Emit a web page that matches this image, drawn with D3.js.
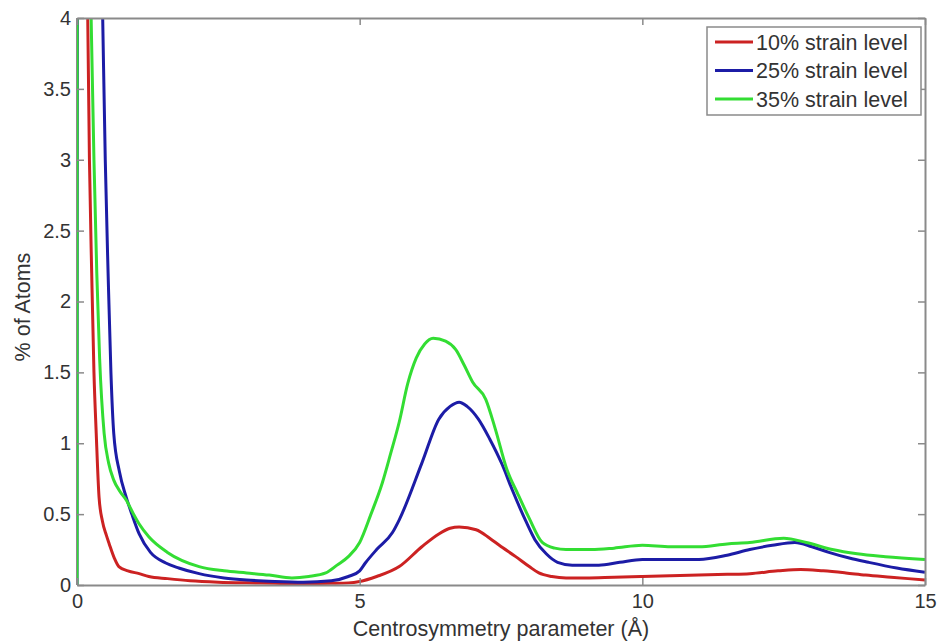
<!DOCTYPE html>
<html><head><meta charset="utf-8">
<script src="https://cdn.jsdelivr.net/npm/d3@7/dist/d3.min.js"></script>
<style>body{margin:0;background:#fff;} text{font-family:"Liberation Sans",Arial,sans-serif;}</style>
</head><body><svg id="c" width="943" height="643"></svg>
<script>
const seriesNames = ["10% strain level","25% strain level","35% strain level"];
const seriesColors = ["#cc2222","#1c1ca6","#33dd33"];
const redX = [0.17,0.19,0.22,0.26,0.30,0.34,0.39,0.45,0.52,0.57,0.66,0.74,0.9,1.1,1.27,1.6,2.0,2.5,3.0,3.5,4.0,4.5,4.8,5.0,5.3,5.7,6.1,6.4,6.6,6.76,7.06,7.3,7.47,7.76,8.0,8.17,8.4,8.65,9.0,9.5,10,10.5,11,11.5,11.9,12.4,12.8,13.2,13.6,13.95,14.4,15];
const redY = [5.0,4.0,3.0,2.2,1.5,1.07,0.62,0.45,0.35,0.29,0.19,0.13,0.10,0.08,0.06,0.045,0.03,0.02,0.015,0.012,0.01,0.012,0.015,0.025,0.06,0.13,0.27,0.36,0.40,0.41,0.39,0.33,0.28,0.2,0.13,0.085,0.06,0.05,0.05,0.055,0.06,0.065,0.07,0.075,0.08,0.10,0.11,0.10,0.085,0.07,0.055,0.035];
const blueX = [0,0.02,0.45,0.5,0.55,0.6,0.65,0.75,0.87,0.97,1.1,1.3,1.57,1.8,2.16,2.6,3.0,3.5,4.0,4.5,4.8,5.0,5.1,5.3,5.58,5.7,6.1,6.4,6.6,6.76,6.9,7.1,7.3,7.52,7.7,7.94,8.1,8.3,8.5,8.76,9.23,9.6,10,10.5,11,11.5,11.9,12.3,12.7,13.0,13.3,13.66,14.0,14.5,15];
const blueY = [0,10,4.1,3.0,2.2,1.5,1.07,0.8,0.62,0.5,0.36,0.23,0.155,0.12,0.08,0.05,0.035,0.025,0.02,0.03,0.06,0.1,0.155,0.25,0.37,0.46,0.86,1.17,1.26,1.29,1.26,1.17,1.03,0.85,0.67,0.45,0.32,0.22,0.16,0.14,0.14,0.16,0.18,0.18,0.18,0.21,0.25,0.28,0.30,0.27,0.23,0.19,0.16,0.12,0.09];
const greenX = [0,0.005,0.25,0.3,0.35,0.4,0.48,0.56,0.65,0.76,0.87,1.0,1.1,1.27,1.6,2.16,2.6,3.0,3.4,3.8,4.1,4.4,4.6,4.8,5.0,5.2,5.4,5.55,5.7,5.85,6.0,6.15,6.3,6.52,6.7,6.85,7.0,7.23,7.4,7.6,7.8,8.0,8.23,8.45,8.65,9.1,9.5,10,10.5,11,11.5,11.9,12.5,12.9,13.36,13.8,14.3,15];
const greenY = [0,10,4.0,3.0,2.2,1.6,1.07,0.86,0.74,0.66,0.6,0.5,0.43,0.34,0.23,0.13,0.1,0.085,0.07,0.05,0.06,0.085,0.14,0.2,0.3,0.5,0.72,0.93,1.15,1.42,1.6,1.7,1.74,1.72,1.66,1.55,1.43,1.31,1.1,0.82,0.64,0.47,0.3,0.26,0.25,0.25,0.26,0.28,0.27,0.27,0.29,0.3,0.33,0.3,0.25,0.22,0.2,0.18];
const xTicks = [0,5,10,15];
const yTicks = [0,0.5,1,1.5,2,2.5,3,3.5,4];

const svg = d3.select("#c");
const L=77,R=925,T=18,B=585;
const x = d3.scaleLinear().domain([0,15]).range([L,R]);
const y = d3.scaleLinear().domain([0,4]).range([B,T]);
const fmt = d3.format("~g");

svg.append("clipPath").attr("id","clip").append("rect").attr("x",L).attr("y",T).attr("width",R-L).attr("height",B-T);

const data = [
  d3.zip(redX, redY),
  d3.zip(blueX, blueY),
  d3.zip(greenX, greenY)
];
const line = d3.line().x(d=>x(d[0])).y(d=>y(d[1])).curve(d3.curveMonotoneX);
const g = svg.append("g").attr("clip-path","url(#clip)");
data.forEach((d,i)=>{
  g.append("path").datum(d).attr("d",line).attr("fill","none")
   .attr("stroke",seriesColors[i]).attr("stroke-width",3).attr("stroke-linejoin","round");
});

const axisColor="#8a8a8a", textColor="#333";
const ax = svg.append("g").attr("transform",`translate(0,${B})`).call(d3.axisBottom(x).tickValues(xTicks).tickFormat(fmt).tickSizeInner(-7).tickSizeOuter(0).tickPadding(9));
const axT = svg.append("g").attr("transform",`translate(0,${T})`).call(d3.axisTop(x).tickValues(xTicks).tickSizeInner(-7).tickSizeOuter(0).tickFormat(""));
const ay = svg.append("g").attr("transform",`translate(${L},0)`).call(d3.axisLeft(y).tickValues(yTicks).tickFormat(fmt).tickSizeInner(-7).tickSizeOuter(0).tickPadding(6));
const ayR = svg.append("g").attr("transform",`translate(${R},0)`).call(d3.axisRight(y).tickValues(yTicks).tickSizeInner(-7).tickSizeOuter(0).tickFormat(""));
[ax,axT,ay,ayR].forEach(a=>{
  a.selectAll("path").attr("stroke",axisColor).attr("stroke-width",2);
  a.selectAll("line").attr("stroke",axisColor).attr("stroke-width",1.5);
  a.selectAll("text").attr("fill",textColor).style("font-size","20px").style("font-family","Liberation Sans, Arial, sans-serif");
});
ay.select(".domain").attr("stroke","none");
svg.append("line").attr("x1",L).attr("x2",L).attr("y1",T).attr("y2",B).attr("stroke",axisColor).attr("stroke-width",2).lower();

svg.append("text").attr("x",501).attr("y",636).attr("text-anchor","middle")
  .attr("fill",textColor).style("font-size","21.5px").text("Centrosymmetry parameter (Å)");
svg.append("text").attr("transform",`translate(30,307) rotate(-90)`).attr("text-anchor","middle")
  .attr("fill",textColor).style("font-size","21.5px").text("% of Atoms");

const lg = svg.append("g");
lg.append("rect").attr("x",707).attr("y",27).attr("width",214).attr("height",88)
  .attr("fill","#fff").attr("stroke",axisColor).attr("stroke-width",1.5);
seriesNames.forEach((n,i)=>{
  const yy = 42 + i*28.5;
  lg.append("line").attr("x1",715).attr("x2",753).attr("y1",yy).attr("y2",yy)
    .attr("stroke",seriesColors[i]).attr("stroke-width",3);
  lg.append("text").attr("x",756).attr("y",yy+7.5).attr("fill",textColor).style("font-size","21.5px").text(n);
});
</script></body></html>
